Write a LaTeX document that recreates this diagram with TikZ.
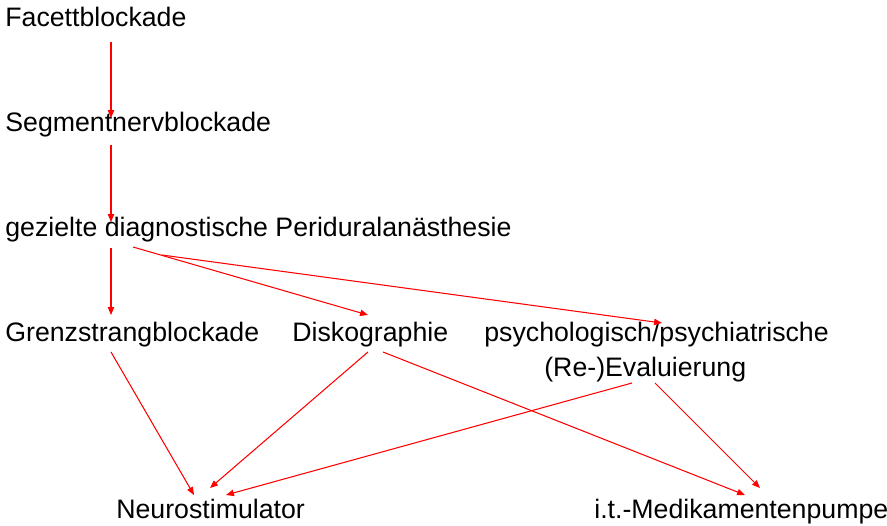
\documentclass[tikz,border=0pt]{standalone}
\usepackage{fontspec}
\setmainfont{Liberation Sans}
\usepackage{tikz}
\usetikzlibrary{arrows.meta,calc}

\begin{document}
\begin{tikzpicture}[x=0.02cm, y=-0.02cm,
                    therapy/.style={anchor=base west, inner sep=0pt,
                                    font=\fontsize{15.2}{21}\selectfont},
                    link/.style={draw=red, line width=0.6pt,
                                 -{Triangle[length=4.5pt,width=3.6pt]}},
                    ]
\useasboundingbox (0,0) rectangle (887,525);

\node[therapy] (facett)  at (5,26)  {Facettblockade};
\node[therapy] (segment) at (5,131) {Segmentnervblockade};
\node[therapy] (pda)     at (5,236) {gezielte diagnostische Periduralanästhesie};
\node[therapy] (grenz)   at (5,341) {Grenzstrangblockade};
\node[therapy] (disko)   at (292,341) {Diskographie};
\node[therapy] (psych)   at (484,341) {psychologisch/psychiatrische};
\node[therapy] (eval)    at (544,376) {(Re-)Evaluierung};
\node[therapy] (neuro)   at (116,518) {Neurostimulator};
\node[therapy] (pumpe)   at (594,518) {i.t.-Medikamentenpumpe};

%% first three steps
\draw[link] ($(facett.base west)+(106,16)$) -- ($(segment.base west)+(106,-13)$);
\draw[link] ($(segment.base west)+(106,14)$) -- ($(pda.base west)+(106,-14)$);
\draw[link] ($(pda.base west)+(106,12)$) -- ($(grenz.base west)+(106,-26)$);

\draw[link] ($(pda.base west)+(128,11)$) -- ($(disko.base west)+(76,-26)$);
\draw[link] ($(pda.base west)+(157,19)$) -- ($(psych.base west)+(178,-18)$);

%% to the implants
\draw[link] ($(grenz.base west)+(106,11)$) -- ($(neuro.base west)+(78,-23)$);
\draw[link] ($(disko.base west)+(76,11)$) -- ($(neuro.base west)+(94,-30)$);
\draw[link] ($(disko.base west)+(91,11)$) -- ($(pumpe.base west)+(151,-23)$);
\draw[link] ($(eval.base west)+(88,7)$) -- ($(neuro.base west)+(110,-23)$);
\draw[link] ($(eval.base west)+(111,7)$) -- ($(pumpe.base west)+(166,-30)$);
\end{tikzpicture}
\end{document}
